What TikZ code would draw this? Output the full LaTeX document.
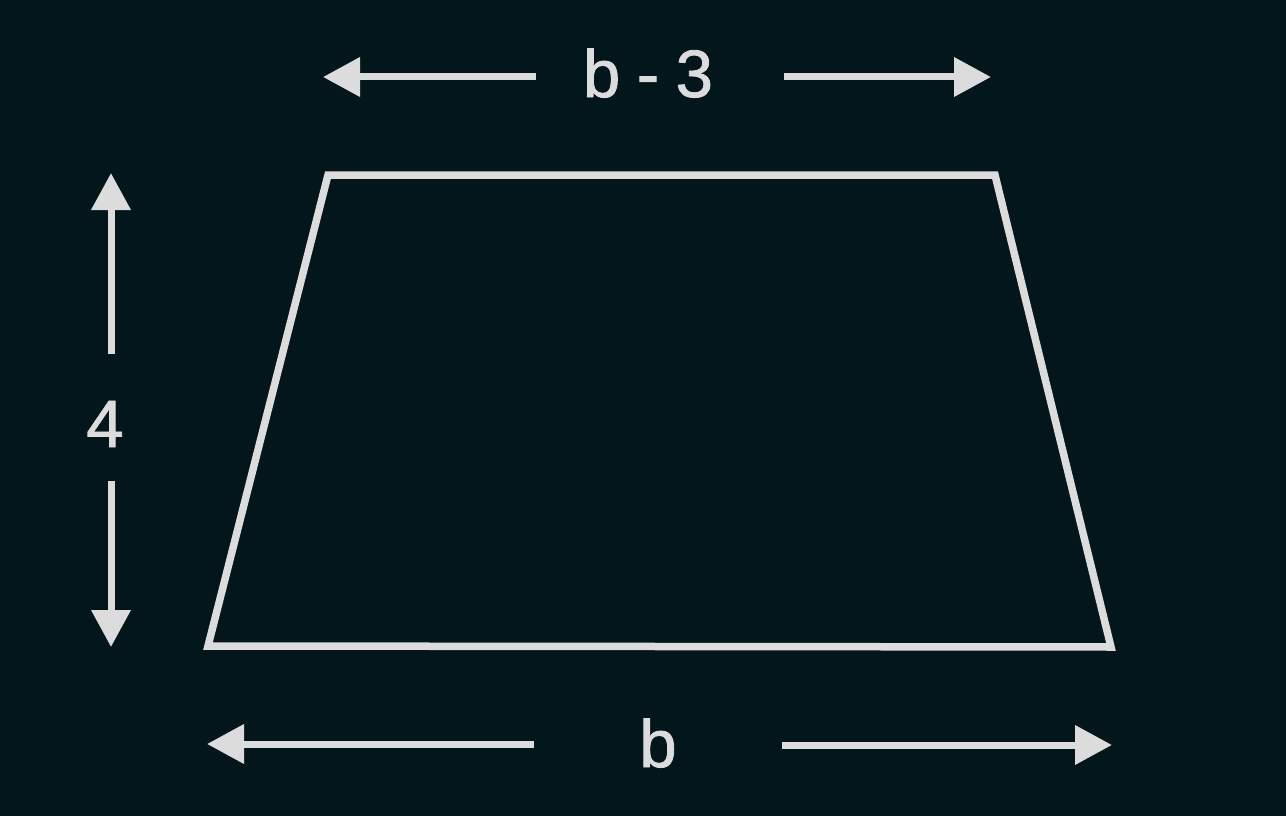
\documentclass[tikz,border=0pt]{standalone}
\usepackage{fontspec}
\setmainfont{Liberation Sans}
\newfontfamily\lblfont{Liberation Sans}[FakeBold=1.2]
\usetikzlibrary{arrows.meta}
\definecolor{bgc}{HTML}{03161B}
\definecolor{fg}{HTML}{DCDCDC}
\begin{document}
\begin{tikzpicture}[x=1pt,y=-1pt,
  dimarrow/.style={draw=fg,line width=7pt,-{Triangle[length=37pt,width=38pt]}},
  trapline/.style={draw=fg,line width=7.5pt,line join=miter},
  lbl/.style={text=fg,font=\lblfont\fontsize{67}{67}\selectfont,anchor=base,inner sep=0pt}]
\fill[bgc] (0,0) rectangle (1286,816);
\useasboundingbox (0,0) rectangle (1286,816);
% trapezoid
\coordinate (tl) at (328,175);
\coordinate (tr) at (995,175);
\coordinate (br) at (1111,647);
\coordinate (bl) at (208,646);
\draw[trapline] (tl) -- (tr) -- (br) -- (bl) -- cycle;
% labels
\node[lbl] (top) at (648,97) {b\hspace{-2pt} - \hspace{-2pt}3};
\node[lbl] (bot) at (658,767) {b};
\node[lbl] (left) at (105,447) {4};
% top arrows
\coordinate (t1s) at (536,77); \coordinate (t1e) at (323,77);
\coordinate (t2s) at (784,77); \coordinate (t2e) at (991,77);
\draw[dimarrow] (t1s) -- (t1e);
\draw[dimarrow] (t2s) -- (t2e);
% bottom arrows
\coordinate (b1s) at (534,744); \coordinate (b1e) at (207,744);
\coordinate (b2s) at (782,745); \coordinate (b2e) at (1112,745);
\draw[dimarrow] (b1s) -- (b1e);
\draw[dimarrow] (b2s) -- (b2e);
% vertical arrows
\coordinate (v1s) at (111,354); \coordinate (v1e) at (111,173);
\coordinate (v2s) at (111,481); \coordinate (v2e) at (111,647);
\draw[dimarrow] (v1s) -- (v1e);
\draw[dimarrow] (v2s) -- (v2e);
\end{tikzpicture}
\end{document}
